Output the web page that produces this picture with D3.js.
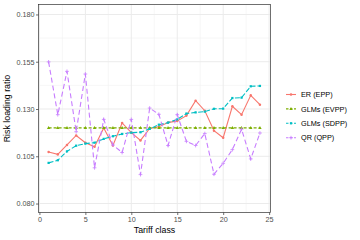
<!DOCTYPE html>
<html><head><meta charset="utf-8">
<script src="https://cdn.jsdelivr.net/npm/d3@7"></script>
<style>body{margin:0;background:#fff;}svg{display:block;font-family:"Liberation Sans",Arial,sans-serif;}</style>
</head><body>
<svg id="c" width="360" height="240"></svg>
<script>
const tariffClass = d3.range(1, 25);
const erEPP = [0.1073,0.1060,0.1110,0.1160,0.1122,0.1100,0.1200,0.1107,0.1226,0.1175,0.1134,0.1197,0.1206,0.1228,0.1237,0.1265,0.1344,0.1291,0.1185,0.1148,0.1314,0.1270,0.1372,0.1323];
const glmEVPP = [0.120,0.120,0.120,0.120,0.120,0.120,0.120,0.120,0.120,0.120,0.120,0.120,0.120,0.120,0.120,0.120,0.120,0.120,0.120,0.120,0.120,0.120,0.120,0.120];
const glmSDPP = [0.1015,0.1029,0.1076,0.1106,0.1117,0.1122,0.1142,0.1156,0.1168,0.1175,0.1177,0.1195,0.1217,0.1228,0.1245,0.1276,0.1282,0.1286,0.1301,0.1302,0.1358,0.1360,0.1420,0.1422];
const qrQPP = [0.1549,0.1270,0.1499,0.1180,0.1485,0.0989,0.1245,0.1110,0.1070,0.1245,0.0953,0.1305,0.1272,0.1107,0.1270,0.1129,0.1107,0.1170,0.0955,0.1013,0.1085,0.1193,0.1036,0.1173];
const xTicks = [0,5,10,15,20,25];
const yTicks = [0.080,0.105,0.130,0.155,0.180];
const xMinor = [2.5,7.5,12.5,17.5,22.5];
const yMinor = [0.0925,0.1175,0.1425,0.1675];

const plus = {draw(ctx, size){ const r = Math.sqrt(size) / 2; ctx.moveTo(-r,0); ctx.lineTo(r,0); ctx.moveTo(0,-r); ctx.lineTo(0,r); }};
const series = [
  {name:"ER (EPP)", values:erEPP, color:"#F8766D", dash:null, shape:d3.symbolCircle, size:5},
  {name:"GLMs (EVPP)", values:glmEVPP, color:"#7CAE00", dash:"3,2", shape:d3.symbolTriangle, size:5},
  {name:"GLMs (SDPP)", values:glmSDPP, color:"#00BFC4", dash:"5,2", shape:d3.symbolSquare, size:5},
  {name:"QR (QPP)", values:qrQPP, color:"#C77CFF", dash:"5,3", shape:plus, size:14}
];

const svg = d3.select("#c");
const L = 38.5, R = 270.5, T = 4.5, B = 212.5;
const x = d3.scaleLinear().domain([-0.1, 25.15]).range([L, R]);
const y = d3.scaleLinear().domain([0.075, 0.185]).range([B + 0.5, T + 0.5]);

const g = svg.append("g");
g.append("rect").attr("x", L).attr("y", T).attr("width", R - L).attr("height", B - T).attr("fill", "#fff");
g.selectAll(".xm").data(xMinor).join("line").attr("x1", d => x(d)).attr("x2", d => x(d)).attr("y1", T).attr("y2", B).attr("stroke", "#F2F2F2").attr("stroke-width", 0.6);
g.selectAll(".ym").data(yMinor).join("line").attr("y1", d => y(d)).attr("y2", d => y(d)).attr("x1", L).attr("x2", R).attr("stroke", "#F2F2F2").attr("stroke-width", 0.6);
g.selectAll(".xg").data(xTicks).join("line").attr("x1", d => x(d)).attr("x2", d => x(d)).attr("y1", T).attr("y2", B).attr("stroke", "#EBEBEB").attr("stroke-width", 1);
g.selectAll(".yg").data(yTicks).join("line").attr("y1", d => y(d)).attr("y2", d => y(d)).attr("x1", L).attr("x2", R).attr("stroke", "#EBEBEB").attr("stroke-width", 1);

const line = d3.line().x((d, i) => x(tariffClass[i])).y(d => y(d));
function drawSym(sel, s) {
  const isPlus = s.shape === plus;
  sel.attr("d", d3.symbol().type(s.shape).size(s.size))
    .attr("fill", isPlus ? "none" : s.color)
    .attr("stroke", isPlus ? s.color : "none")
    .attr("stroke-width", isPlus ? 0.8 : 0);
}
series.forEach(s => {
  g.append("path").datum(s.values).attr("d", line).attr("fill", "none").attr("stroke", s.color)
    .attr("stroke-width", 1.1).attr("stroke-dasharray", s.dash);
  g.selectAll(null).data(s.values).join("path")
    .attr("transform", (d, i) => `translate(${x(tariffClass[i])},${y(d)})`)
    .call(drawSym, s);
});

g.append("rect").attr("x", L).attr("y", T).attr("width", R - L).attr("height", B - T).attr("fill", "none").attr("stroke", "#333").attr("stroke-width", 0.7);

const xAxis = svg.append("g").attr("transform", `translate(0,${B})`)
  .call(d3.axisBottom(x).tickValues(xTicks).tickSize(2.5).tickPadding(1.5).tickFormat(d3.format("d")));
const yAxis = svg.append("g").attr("transform", `translate(${L},0)`)
  .call(d3.axisLeft(y).tickValues(yTicks).tickSize(2.5).tickPadding(1.5).tickFormat(d3.format(".3f")));
[xAxis, yAxis].forEach(a => {
  a.select(".domain").remove();
  a.selectAll(".tick line").attr("stroke", "#333").attr("stroke-width", 0.7);
  a.selectAll(".tick text").attr("fill", "#4D4D4D").attr("font-size", 7.2).attr("font-family", "Liberation Sans, Arial, sans-serif");
});

svg.append("text").attr("x", (L + R) / 2).attr("y", 233).attr("text-anchor", "middle")
  .attr("font-size", 8.8).attr("fill", "#000").text("Tariff class");
svg.append("text").attr("transform", `translate(10,${(T + B) / 2}) rotate(-90)`).attr("text-anchor", "middle")
  .attr("font-size", 8.8).attr("fill", "#000").text("Risk loading ratio");

const leg = svg.append("g");
series.forEach((s, i) => {
  const yy = 94.5 + i * 14.4;
  leg.append("line").attr("x1", 286).attr("x2", 296).attr("y1", yy).attr("y2", yy)
    .attr("stroke", s.color).attr("stroke-width", 1.1).attr("stroke-dasharray", s.dash ? "2.5,1.5" : null);
  leg.append("path").attr("transform", `translate(291,${yy})`).call(drawSym, s);
  leg.append("text").attr("x", 301).attr("y", yy + 2.6).attr("font-size", 7.3).attr("fill", "#000").text(s.name);
});
</script>
</body></html>
